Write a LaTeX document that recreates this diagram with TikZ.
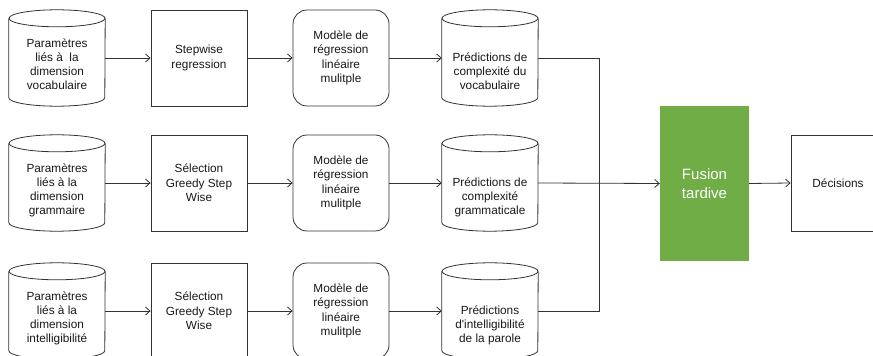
\documentclass[tikz,border=0pt]{standalone}
\usepackage{fontspec}
\setmainfont{Liberation Sans}
\usetikzlibrary{arrows.meta}
\definecolor{fusegreen}{HTML}{70AD47}
\definecolor{inkc}{HTML}{333333}
\newcommand\crx{48pt}
\newcommand\cry{8.5pt}
\newcommand\drawcyl[1]{%
  \draw[line] ([yshift=-\cry]#1.north) ellipse [x radius=\crx, y radius=\cry];
  \draw[line] ([yshift=-\cry]#1.north west) -- ([yshift=\cry]#1.south west)
     arc [start angle=180, end angle=360, x radius=\crx, y radius=\cry]
     -- ([yshift=-\cry]#1.north east);}
\begin{document}
\begin{tikzpicture}[x=1pt,y=1pt,
  line/.style={draw=inkc, line width=0.8pt},
  arr/.style={line, -{Straight Barb[length=4.5pt,width=8pt]}},
  txt/.style={font=\fontsize{11.8}{14.3}\selectfont, text=black!90, align=center, inner sep=0pt},
  cyl/.style={minimum width=96pt, minimum height=96pt, inner sep=0pt},
  cyltext/.style={txt, anchor=south, text depth=3pt},
  stepbox/.style={txt, draw=inkc, line width=0.8pt, minimum width=96pt, minimum height=96pt},
  roundbox/.style={stepbox, rounded corners=14pt},
]
\useasboundingbox (0,0) rectangle (873,356);
\clip (0,0) rectangle (873,356);
\fill[white] (0,0) rectangle (873,356);

% row 1
\node[cyl] (p1) at (57,298) {};
\node[cyltext] (p1t) at ([yshift=13pt]p1.south) {Paramètres\\liés à~ la\\dimension\\vocabulaire};
\node[stepbox] (b1) at (199,298) {Stepwise\\regression};
\node[roundbox] (m1) at (341,298) {Modèle de\\régression\\linéaire\\mulitple};
\node[cyl] (q1) at (490,298) {};
\node[cyltext] (q1t) at ([yshift=13pt]q1.south) {Prédictions de\\complexité du\\vocabulaire};

% row 2
\node[cyl] (p2) at (57,173) {};
\node[cyltext] (p2t) at ([yshift=13pt]p2.south) {Paramètres\\liés à la\\dimension\\grammaire};
\node[stepbox] (b2) at (199,173) {Sélection\\Greedy Step\\Wise};
\node[roundbox] (m2) at (341,173) {Modèle de\\régression\\linéaire\\mulitple};
\node[cyl] (q2) at (490,173) {};
\node[cyltext] (q2t) at ([yshift=13pt]q2.south) {Prédictions de\\complexité\\grammaticale};

% row 3
\node[cyl] (p3) at (57,45) {};
\node[cyltext] (p3t) at ([yshift=13pt]p3.south) {Paramètres\\liés à la\\dimension\\intelligibilité};
\node[stepbox] (b3) at (199,45) {Sélection\\Greedy Step\\Wise};
\node[roundbox] (m3) at (341,45) {Modèle de\\régression\\linéaire\\mulitple};
\node[cyl] (q3) at (490,45) {};
\node[cyltext] (q3t) at ([yshift=13pt]q3.south) {Prédictions\\d\textquotesingle intelligibilité\\de la parole};

\drawcyl{p1}\drawcyl{q1}\drawcyl{p2}\drawcyl{q2}\drawcyl{p3}\drawcyl{q3}

% fusion and decisions
\node[txt, fill=fusegreen, minimum width=89pt, minimum height=155pt,
      font=\fontsize{15}{19}\selectfont, text=white] (f) at (704.5,172.5) {Fusion\\tardive};
\node[stepbox, minimum width=94pt] (d) at (838,173) {Décisions};
\coordinate (j) at (599,173);

% connectors
\foreach \r in {1,2,3}{
  \draw[arr] (p\r.east) -- (b\r.west);
  \draw[arr] (b\r.east) -- (m\r.west);
  \draw[arr] (m\r.east) -- (q\r.west);
}
\draw[line] (q1.east) -| (j);
\draw[line] (q3.east) -| (j);
\draw[arr] (q2.east) -- (f.west);
\draw[arr] (f.east) -- (d.west);
\end{tikzpicture}
\end{document}
